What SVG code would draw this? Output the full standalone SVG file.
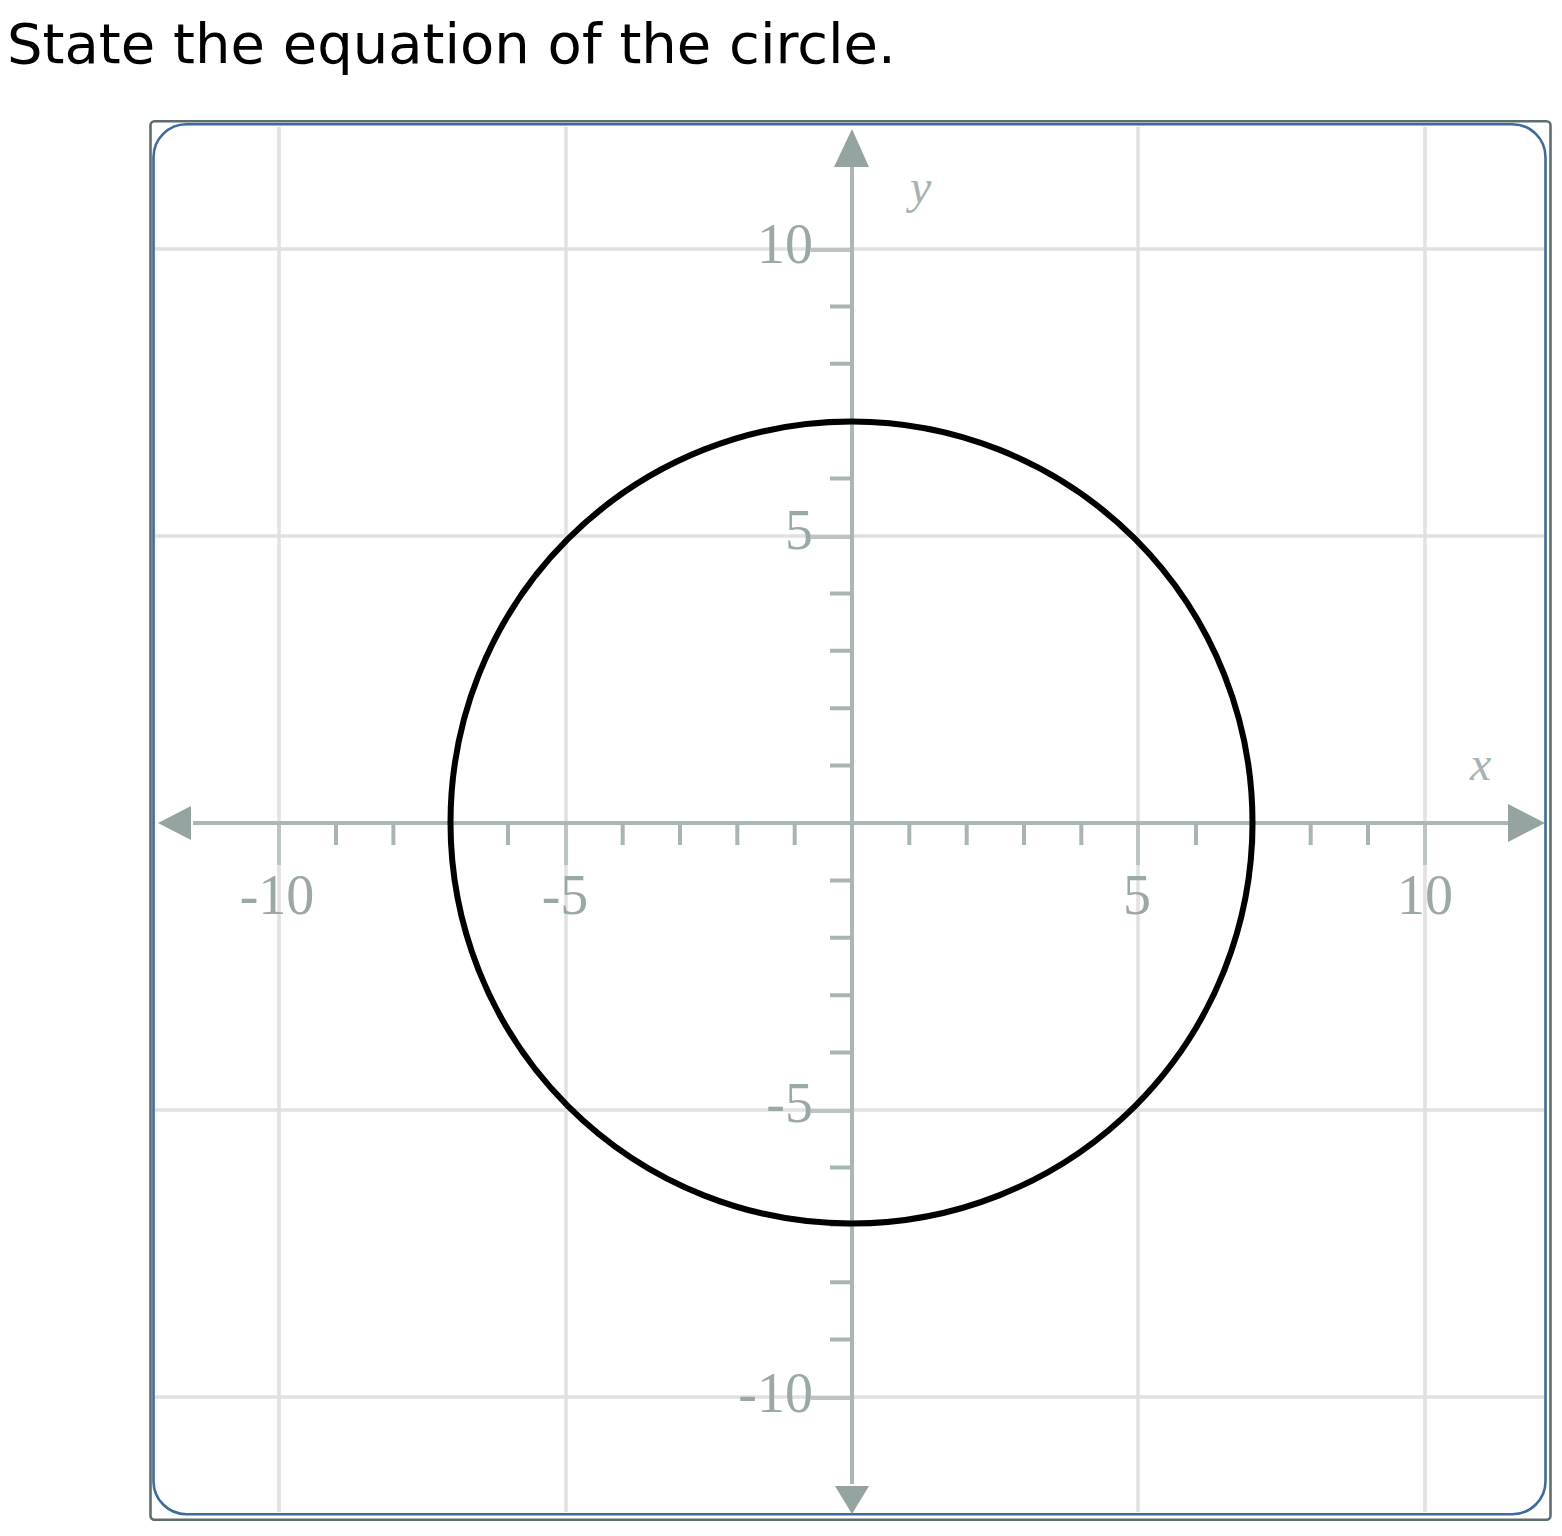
<svg xmlns="http://www.w3.org/2000/svg" width="1562" height="1536" viewBox="0 0 1562 1536">
<style>
.grid{stroke:#e1e1e1;stroke-width:3.5;fill:none}
.axis{stroke:#abb7b6;stroke-width:4;fill:none}
.tick{stroke:#a9b5b4;stroke-width:4;fill:none}
.major{stroke:#bcc5c4;stroke-width:4;fill:none}
.arrow{fill:#95a3a1;stroke:none}
.num{font-family:"Liberation Serif","Times New Roman",serif;font-size:56px;fill:#9aa8a7}
.var{font-family:"Liberation Serif","Times New Roman",serif;font-style:italic;font-size:48px;fill:#a7b3b2}
</style>
<rect width="1562" height="1536" fill="#ffffff"/>
<g id="title"><text x="7" y="63" font-family="DejaVu Sans, Verdana, sans-serif" font-size="56" fill="#000000">State the equation of the circle.</text></g>
<g id="frame">
<rect x="150.5" y="121.3" width="1400" height="1398.5" rx="4" fill="#ffffff" stroke="#5f6d70" stroke-width="2.6"/>
<rect x="153.5" y="124.2" width="1392" height="1390" rx="33" fill="#ffffff" stroke="#3a6b9e" stroke-width="2.6"/>
</g>
<g id="grid">
<path class="grid" d="M279,127V1512M566,127V1512M1138,127V1512M1425,127V1512M155,249H1544M155,536H1544M155,1110H1544M155,1397H1544"/>
</g>
<g id="axes">
<path class="axis" d="M193,823H1510M852,166V1484"/>
<polygon class="arrow" points="158,823 191,806 191,840"/>
<polygon class="arrow" points="1545,823 1508,804 1508,842"/>
<polygon class="arrow" points="852,129 834,167 869,167"/>
<polygon class="arrow" points="852,1514 835,1486 869,1486"/>
</g>
<g id="ticks">
<path class="tick" d="M336,823V845M393.4,823V845M450.7,823V845M508,823V845M622.7,823V845M680,823V845M737.3,823V845M794.7,823V845M909.3,823V845M966.7,823V845M1024,823V845M1081.3,823V845M1196,823V845M1253.3,823V845M1310.7,823V845M1368,823V845"/>
<path class="major" d="M279,825V865M566,825V865M1138,825V865M1425,825V865"/>
<path class="tick" d="M852,306.4H830M852,363.8H830M852,421.2H830M852,478.6H830M852,593.4H830M852,650.8H830M852,708.2H830M852,765.6H830M852,880.4H830M852,937.8H830M852,995.2H830M852,1052.6H830M852,1167.4H830M852,1224.8H830M852,1282.2H830M852,1339.6H830"/>
<path class="major" d="M850,250H811M850,537H811M850,1111H811M850,1398H811"/>
</g>
<g id="labels">
<text class="num" x="277" y="914" text-anchor="middle">-10</text>
<text class="num" x="565" y="914" text-anchor="middle">-5</text>
<text class="num" x="1137" y="914" text-anchor="middle">5</text>
<text class="num" x="1425" y="914" text-anchor="middle">10</text>
<text class="num" x="813" y="263" text-anchor="end">10</text>
<text class="num" x="813" y="549" text-anchor="end">5</text>
<text class="num" x="813" y="1122" text-anchor="end">-5</text>
<text class="num" x="813" y="1412" text-anchor="end">-10</text>
<text class="var" x="1470" y="780">x</text>
<text class="var" x="910" y="203">y</text>
</g>
<g id="circle">
<circle cx="851.5" cy="822.5" r="401" fill="none" stroke="#000000" stroke-width="6"/>
</g>
</svg>
